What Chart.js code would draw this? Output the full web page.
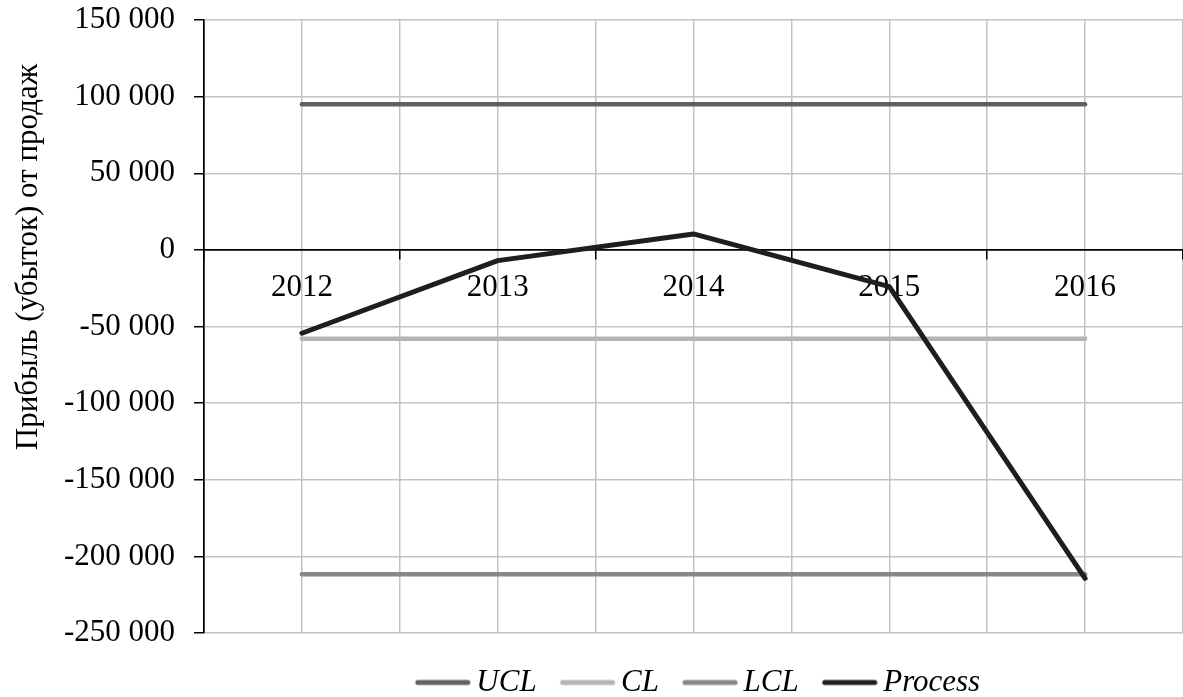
<!DOCTYPE html>
<html lang="ru">
  <head>
    <meta charset="UTF-8" />
    <title>Контрольная карта</title>
    <script src="https://cdn.jsdelivr.net/npm/chart.js"></script>
    <style>
      html, body { margin: 0; padding: 0; background: #fff; }
      #wrap { width: 1183px; height: 697px; position: relative; }
    </style>
  </head>
  <body>
    <div id="wrap">
      <canvas id="controlChart"></canvas>
    </div>
    <script>
      // values
      const years = ["2012", "2013", "2014", "2015", "2016"];
      const ucl = [95000, 95000, 95000, 95000, 95000];
      const cl = [-58000, -58000, -58000, -58000, -58000];
      const lcl = [-211700, -211700, -211700, -211700, -211700];
      const processValues = [-54400, -7000, 10400, -24000, -214300];
      const yRange = [-250000, 150000];
      const yStep = 50000;
      const yTitle = "Прибыль (убыток) от продаж";

      const FONT = "'Liberation Serif', 'Times New Roman', serif";
      const GRID = "#c3c3c3";

      function toPoints(values) {
        return values.map((v, i) => ({ x: i, y: v }));
      }

      function fmt(v) {
        const s = String(Math.abs(v)).replace(/\B(?=(\d{3})+(?!\d))/g, " ");
        return v < 0 ? "-" + s : s;
      }

      // short thick line used as legend marker
      function legendLine(color) {
        const c = document.createElement("canvas");
        c.width = 80;
        c.height = 10;
        const g = c.getContext("2d");
        g.strokeStyle = color;
        g.lineWidth = 5;
        g.lineCap = "round";
        g.beginPath();
        g.moveTo(24, 5);
        g.lineTo(74, 5);
        g.stroke();
        return c;
      }

      // axis title sits higher than the centre of the axis in the original
      const yTitlePlugin = {
        id: "yTitle",
        afterDraw(chart) {
          const ctx = chart.ctx;
          ctx.save();
          ctx.translate(37, 257);
          ctx.rotate(-Math.PI / 2);
          ctx.font = "31px " + FONT;
          ctx.fillStyle = "#000";
          ctx.textAlign = "center";
          ctx.textBaseline = "alphabetic";
          ctx.fillText(yTitle, 0, 0);
          ctx.restore();
        },
      };

      const ctx = document.getElementById("controlChart");

      new Chart(ctx, {
        type: "line",
        data: {
          datasets: [
            {
              label: "UCL",
              data: toPoints(ucl),
              borderColor: "#606060",
              borderWidth: 4.5,
              order: 1,
            },
            {
              label: "CL",
              data: toPoints(cl),
              borderColor: "#b4b4b4",
              borderWidth: 4.5,
              order: 1,
            },
            {
              label: "LCL",
              data: toPoints(lcl),
              borderColor: "#888888",
              borderWidth: 4.5,
              order: 1,
            },
            {
              label: "Process",
              data: toPoints(processValues),
              borderColor: "#1e1e1e",
              borderWidth: 5,
              order: 0,
            },
          ],
        },
        options: {
          responsive: true,
          maintainAspectRatio: false,
          animation: false,
          layout: {
            padding: { top: 20, right: 0, bottom: 0, left: 0 },
          },
          elements: {
            point: { radius: 0, hoverRadius: 0 },
            line: { tension: 0, borderCapStyle: "round", borderJoinStyle: "round" },
          },
          scales: {
            x: {
              type: "linear",
              position: { y: 0 },
              min: -0.5,
              max: years.length - 0.5,
              border: { color: "#000", width: 1.5 },
              grid: {
                color: (c) => (c.tick && c.tick.value === -0.5 ? "#000" : GRID),
                lineWidth: 1.5,
                tickLength: 9,
                tickColor: (c) =>
                  c.tick && Number.isInteger(c.tick.value) ? "rgba(0,0,0,0)" : "#000",
              },
              ticks: {
                stepSize: 0.5,
                autoSkip: false,
                maxRotation: 0,
                padding: 10,
                color: "#000",
                font: { family: FONT, size: 31 },
                callback: (v) => (Number.isInteger(v) ? years[v] : ""),
              },
              afterFit: (scale) => {
                scale.paddingLeft = 0;
                scale.paddingRight = 0;
              },
            },
            y: {
              min: yRange[0],
              max: yRange[1],
              border: { color: "#000", width: 1.5 },
              grid: {
                color: (c) => (c.tick && c.tick.value === 0 ? "#000" : GRID),
                lineWidth: 1.5,
                tickLength: 10,
                tickColor: "#000",
              },
              ticks: {
                stepSize: yStep,
                padding: 19,
                color: "#000",
                font: { family: FONT, size: 31 },
                callback: (v) => fmt(v),
              },
              afterFit: (scale) => {
                scale.width = 204;
                scale.paddingTop = 0;
                scale.paddingBottom = 0;
              },
            },
          },
          plugins: {
            tooltip: { enabled: false },
            legend: {
              position: "bottom",
              fullSize: false,
              maxHeight: 64,
              // empty title only pushes the row down a little
              title: {
                display: true,
                text: " ",
                padding: 0,
                font: { size: 10, lineHeight: "19px" },
              },
              labels: {
                usePointStyle: true,
                pointStyleWidth: 54,
                padding: 15,
                color: "#000",
                font: { family: FONT, size: 31, style: "italic" },
                generateLabels: (chart) =>
                  chart.data.datasets.map((ds, i) => ({
                    text: ds.label,
                    fontColor: "#000",
                    pointStyle: legendLine(ds.borderColor),
                    fillStyle: ds.borderColor,
                    strokeStyle: ds.borderColor,
                    lineWidth: 0,
                    hidden: false,
                    datasetIndex: i,
                  })),
              },
            },
          },
        },
        plugins: [yTitlePlugin],
      });
    </script>
  </body>
</html>
